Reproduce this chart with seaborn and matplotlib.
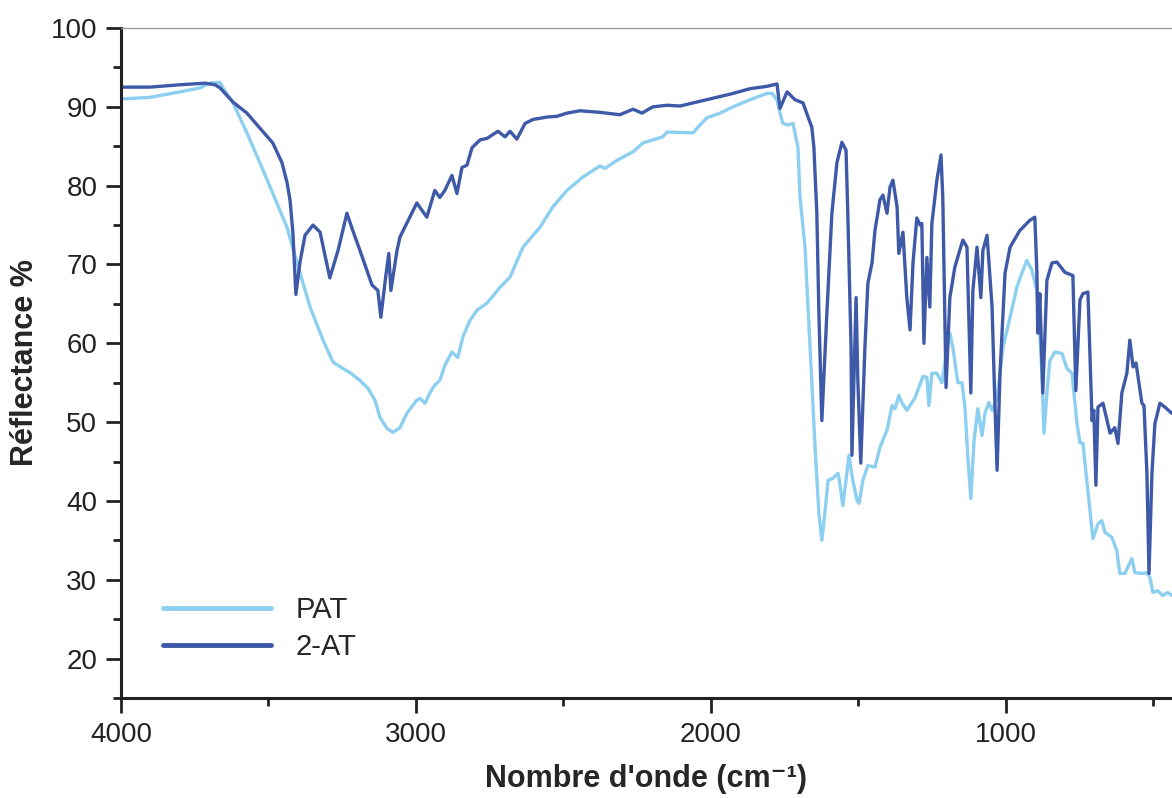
import numpy as np
import pandas as pd
import seaborn as sns
import matplotlib.pyplot as plt
from matplotlib.ticker import MultipleLocator

# PAT spectrum (wavenumber cm-1, reflectance %)
pat_wn = [4000, 3902, 3800, 3732, 3698, 3664, 3654, 3620, 3573, 3529, 3485, 3437, 3403, 3359,
          3315, 3281, 3247, 3224, 3190, 3163, 3139, 3122, 3098, 3078, 3054, 3031, 2997, 2986,
          2969, 2953, 2936, 2919, 2902, 2878, 2858, 2841, 2817, 2793, 2759, 2715, 2681, 2637,
          2580, 2536, 2488, 2434, 2376, 2359, 2319, 2264, 2231, 2163, 2149, 2061, 2037, 2014,
          1969, 1925, 1868, 1810, 1793, 1776, 1766, 1756, 1739, 1722, 1705, 1698, 1681, 1664,
          1647, 1634, 1624, 1614, 1603, 1586, 1569, 1563, 1553, 1542, 1532, 1519, 1505, 1498,
          1485, 1468, 1444, 1427, 1403, 1386, 1376, 1363, 1353, 1336, 1308, 1295, 1281, 1268,
          1261, 1251, 1234, 1217, 1207, 1190, 1180, 1163, 1149, 1139, 1129, 1119, 1108, 1095,
          1081, 1071, 1058, 1047, 1030, 1010, 986, 963, 946, 929, 912, 895, 888, 878, 871, 861,
          851, 834, 810, 793, 776, 759, 749, 739, 722, 705, 688, 675, 664, 641, 624, 614, 597,
          573, 563, 539, 522, 512, 502, 485, 468, 451, 437]
pat_r = [91.0, 91.2, 91.9, 92.4, 93.0, 93.1, 92.4, 90.5, 86.7, 82.9, 79.0, 74.7, 70.2, 64.6,
         60.4, 57.6, 56.8, 56.3, 55.3, 54.3, 52.8, 50.6, 49.2, 48.7, 49.3, 51.1, 52.8, 53.0,
         52.4, 53.7, 54.7, 55.3, 57.2, 58.9, 58.2, 60.8, 62.9, 64.2, 65.1, 67.1, 68.4, 72.2,
         74.7, 77.3, 79.4, 81.1, 82.5, 82.2, 83.2, 84.3, 85.4, 86.2, 86.8, 86.7, 87.7, 88.6,
         89.2, 90.0, 90.9, 91.7, 91.7, 90.9, 89.2, 87.9, 87.7, 87.9, 84.9, 78.5, 72.2, 59.5,
         46.8, 38.4, 35.0, 38.4, 42.6, 42.9, 43.5, 42.2, 39.4, 42.6, 45.8, 42.6, 40.1, 39.7,
         42.6, 44.5, 44.3, 46.8, 49.0, 52.1, 51.7, 53.4, 52.5, 51.5, 53.1, 54.4, 55.8, 55.7,
         52.1, 56.2, 56.2, 55.0, 57.5, 61.3, 59.5, 55.0, 55.0, 51.9, 45.5, 40.3, 47.7, 51.7,
         48.3, 51.1, 52.5, 51.5, 53.1, 59.5, 63.3, 67.1, 68.9, 70.5, 69.3, 66.7, 63.3, 56.2,
         48.6, 53.7, 57.8, 58.9, 58.7, 56.8, 56.2, 49.8, 47.4, 47.3, 41.3, 35.2, 37.1, 37.5,
         36.0, 35.4, 33.7, 30.8, 30.8, 32.7, 30.9, 30.8, 30.9, 30.3, 28.4, 28.6, 28.0, 28.4,
         28.0]

# 2-AT spectrum
at_wn = [4000, 3902, 3800, 3715, 3681, 3664, 3620, 3573, 3529, 3485, 3454, 3437, 3427, 3417,
         3407, 3393, 3376, 3349, 3325, 3292, 3264, 3234, 3214, 3190, 3149, 3129, 3119, 3102,
         3092, 3085, 3064, 3054, 2997, 2963, 2936, 2919, 2902, 2878, 2861, 2844, 2827, 2810,
         2783, 2759, 2722, 2698, 2681, 2658, 2630, 2603, 2556, 2522, 2488, 2444, 2376, 2309,
         2264, 2234, 2197, 2149, 2105, 2037, 1980, 1925, 1868, 1810, 1776, 1766, 1742, 1715,
         1688, 1658, 1651, 1641, 1634, 1624, 1607, 1590, 1573, 1556, 1542, 1536, 1525, 1522,
         1508, 1502, 1492, 1478, 1468, 1454, 1444, 1427, 1417, 1403, 1393, 1383, 1369, 1363,
         1349, 1336, 1325, 1315, 1302, 1291, 1285, 1278, 1268, 1258, 1251, 1234, 1220, 1214,
         1203, 1190, 1173, 1146, 1132, 1119, 1112, 1098, 1085, 1078, 1064, 1047, 1037, 1030,
         1020, 1003, 986, 953, 919, 902, 895, 892, 885, 875, 861, 844, 827, 800, 773, 763,
         749, 739, 722, 708, 702, 695, 688, 671, 647, 631, 620, 607, 590, 580, 569, 559, 539,
         532, 522, 515, 505, 495, 478, 461, 437]
at_r = [92.5, 92.5, 92.8, 93.0, 92.8, 92.4, 90.6, 89.2, 87.3, 85.4, 82.9, 80.4, 78.2, 74.0,
        66.2, 70.3, 73.7, 75.0, 74.1, 68.3, 71.8, 76.5, 74.3, 71.8, 67.4, 66.7, 63.3, 68.6,
        71.4, 66.7, 71.8, 73.5, 77.8, 76.0, 79.4, 78.5, 79.4, 81.3, 79.0, 82.3, 82.6, 84.8,
        85.8, 86.0, 86.9, 86.2, 86.9, 85.9, 87.9, 88.4, 88.7, 88.8, 89.2, 89.5, 89.3, 89.0,
        89.7, 89.2, 90.0, 90.2, 90.1, 90.7, 91.2, 91.7, 92.3, 92.6, 92.9, 89.8, 91.9, 90.9,
        90.5, 87.4, 84.9, 76.5, 63.8, 50.2, 63.8, 76.5, 82.9, 85.5, 84.5, 76.5, 59.5, 45.8,
        65.8, 55.3, 44.8, 59.5, 67.6, 70.2, 74.3, 78.2, 78.8, 76.5, 79.8, 80.7, 77.3, 71.4,
        74.1, 65.8, 61.7, 70.2, 75.9, 75.0, 75.2, 60.0, 70.9, 64.6, 75.2, 80.7, 83.9, 78.5,
        54.4, 65.8, 69.7, 73.1, 72.2, 53.7, 66.7, 72.2, 65.8, 71.8, 73.7, 64.6, 51.9, 43.9,
        56.2, 68.9, 72.2, 74.3, 75.6, 76.0, 68.9, 61.3, 66.3, 53.7, 68.0, 70.2, 70.3, 69.0,
        68.6, 54.0, 65.5, 66.3, 66.5, 50.2, 51.5, 42.0, 51.9, 52.4, 48.6, 49.3, 47.3, 53.7,
        56.2, 60.4, 57.0, 57.5, 52.4, 52.1, 43.5, 30.8, 43.5, 49.8, 52.4, 51.9, 51.1]

df = pd.concat([
    pd.DataFrame({'wn': pat_wn, 'r': pat_r, 'sample': 'PAT'}),
    pd.DataFrame({'wn': at_wn, 'r': at_r, 'sample': '2-AT'}),
])

sns.set_style('ticks')
plt.rcParams['font.family'] = ['Liberation Sans', 'DejaVu Sans']

fig = plt.figure(figsize=(11.72, 7.98), dpi=100)
ax = fig.add_axes([0.1032, 0.1253, 0.8968, 0.8396])

sns.lineplot(data=df, x='wn', y='r', hue='sample', sort=False,
             palette={'PAT': '#8CCFF0', '2-AT': '#3D59A8'}, linewidth=2.4, ax=ax)

ax.set_xlim(4000, 437)
ax.set_ylim(15, 100)
ax.xaxis.set_major_locator(MultipleLocator(1000))
ax.xaxis.set_minor_locator(MultipleLocator(500))
ax.yaxis.set_major_locator(MultipleLocator(10))
ax.yaxis.set_minor_locator(MultipleLocator(5))
ax.set_yticks(range(20, 101, 10))
ax.tick_params(which='major', direction='out', length=11, width=2, labelsize=20, colors='#222222', pad=6)
ax.tick_params(which='minor', direction='out', length=6, width=2, colors='#222222')

ax.spines['left'].set_linewidth(2.2)
ax.spines['bottom'].set_linewidth(2.2)
ax.spines['left'].set_color('#222222')
ax.spines['bottom'].set_color('#222222')
ax.spines['top'].set_color('#999999')
ax.spines['top'].set_linewidth(1)
ax.spines['right'].set_visible(False)

ax.set_xlabel("Nombre d'onde (cm⁻¹)", fontsize=22, fontweight='bold', labelpad=12)
ax.set_ylabel('Réflectance %', fontsize=22, fontweight='bold', labelpad=8)

leg = ax.legend(loc='lower left', bbox_to_anchor=(0.04, 0.055), frameon=False, fontsize=21,
                handlelength=3.7, handletextpad=0.85, labelspacing=0.3, borderpad=0, borderaxespad=0)
for line in leg.get_lines():
    line.set_linewidth(3.5)

fig.savefig('out.png', dpi=100)
